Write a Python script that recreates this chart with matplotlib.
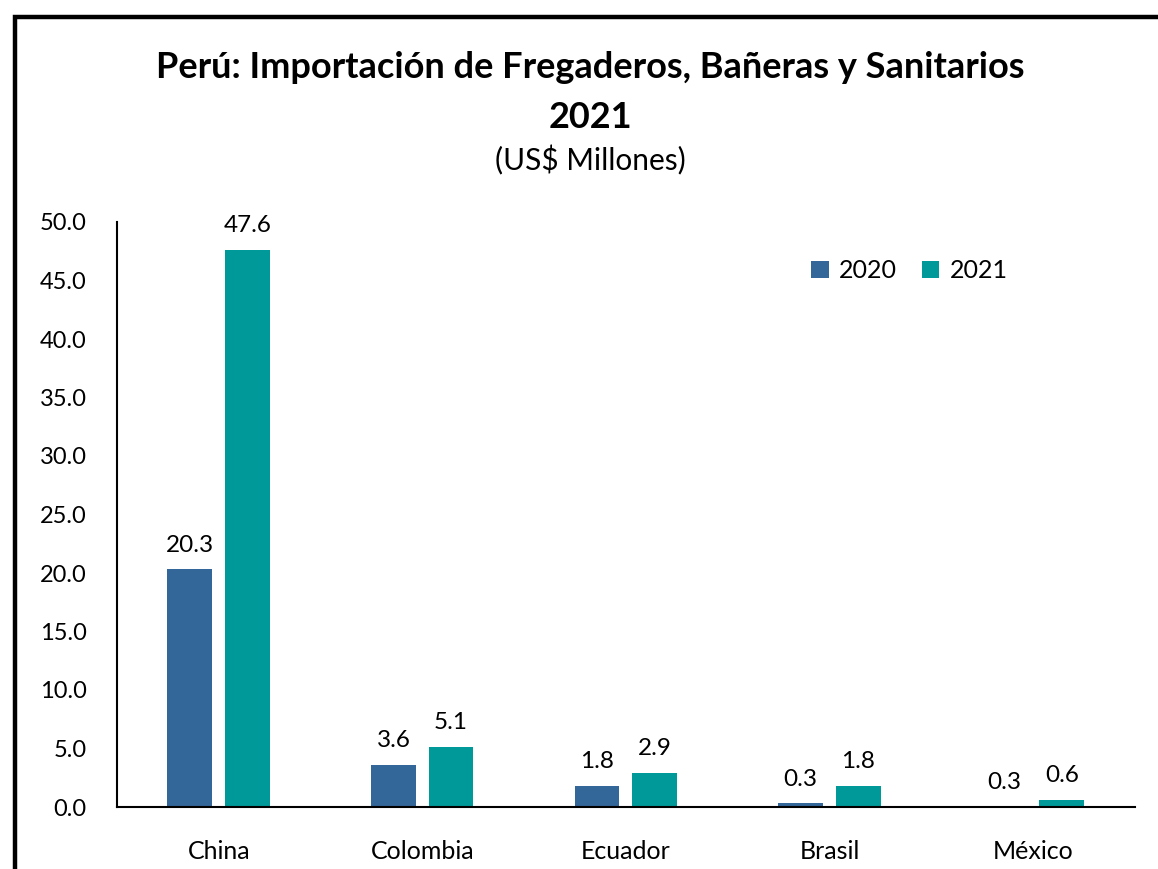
import matplotlib.pyplot as plt
import numpy as np
from matplotlib.patches import Rectangle

paises = ["China", "Colombia", "Ecuador", "Brasil", "México"]
v2020 = [20.3, 3.6, 1.8, 0.3, 0.04]
v2021 = [47.6, 5.1, 2.9, 1.8, 0.6]
lab2020 = ["20.3", "3.6", "1.8", "0.3", "0.3"]
lab2021 = ["47.6", "5.1", "2.9", "1.8", "0.6"]
yticks = np.arange(0, 50.1, 5)

c2020 = "#336699"
c2021 = "#009999"

plt.rcParams['font.family'] = ['Lato', 'DejaVu Sans']

fig = plt.figure(figsize=(11.58, 8.69), dpi=100)
fig.patches.append(Rectangle((15 / 1158, -0.1), 1.2, 1.1 - 17 / 869,
                             transform=fig.transFigure, fill=False,
                             ec="black", lw=3.2))

ax = fig.add_axes([117 / 1158, 1 - 807 / 869, (1135 - 117) / 1158, (807 - 222) / 869])

x = np.arange(len(paises))
w = 0.22
b1 = ax.bar(x - 0.142, v2020, w, color=c2020, label="2020")
b2 = ax.bar(x + 0.14, v2021, w, color=c2021, label="2021")

for rect, t in zip(b1, lab2020):
    ax.annotate(t, (rect.get_x() + rect.get_width() / 2, rect.get_height()),
                xytext=(0, 10), textcoords="offset points", ha="center", va="bottom", fontsize=17.5)
for rect, t in zip(b2, lab2021):
    ax.annotate(t, (rect.get_x() + rect.get_width() / 2, rect.get_height()),
                xytext=(0, 10), textcoords="offset points", ha="center", va="bottom", fontsize=17.5)

ax.set_xlim(-0.5, 4.5)
ax.set_ylim(0, 50)
ax.set_yticks(yticks)
ax.set_yticklabels([f"{v:.1f}" for v in yticks], fontsize=17)
ax.set_xticks(x)
ax.set_xticklabels(paises, fontsize=18)
ax.tick_params(axis="y", length=0, pad=22)
ax.tick_params(axis="x", length=0, pad=24)
for s in ["top", "right"]:
    ax.spines[s].set_visible(False)
ax.spines["left"].set_linewidth(1.5)
ax.spines["bottom"].set_linewidth(1.5)

ax.legend(loc="upper left", bbox_to_anchor=(0.66, 0.975), ncol=2, frameon=False,
          fontsize=18, handlelength=0.7, handleheight=0.7, handletextpad=0.4,
          columnspacing=1.0)

fig.text(0.51, 1 - 68 / 869, "Perú: Importación de Fregaderos, Bañeras y Sanitarios",
         ha="center", va="center", fontsize=26, fontweight="bold")
fig.text(0.51, 1 - 118 / 869, "2021", ha="center", va="center", fontsize=26, fontweight="bold")
fig.text(0.51, 1 - 160 / 869, "(US$ Millones)", ha="center", va="center", fontsize=21.5)

fig.savefig("out.png", dpi=100)
